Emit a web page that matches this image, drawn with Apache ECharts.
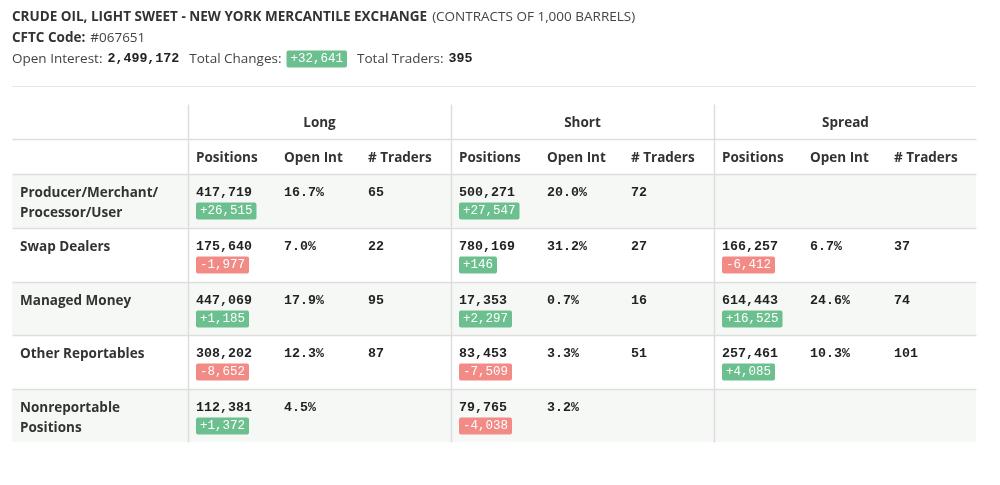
<!DOCTYPE html>
<html>
<head>
<meta charset="utf-8">
<style>
  html, body { margin: 0; padding: 0; background: #fff; }
  #cot { width: 1000px; height: 485px; }
</style>
</head>
<body>
<div id="cot"></div>
<script src="https://cdn.jsdelivr.net/npm/echarts@6/dist/echarts.min.js"></script>
<script>
// report header
var marketName = 'CRUDE OIL, LIGHT SWEET - NEW YORK MERCANTILE EXCHANGE'
var contractUnit = '(CONTRACTS OF 1,000 BARRELS)'
var cftcCode = '067651'
var openInterest = 2499172
var totalChanges = 32641
var totalTraders = 395

// table
var groups = ['Long', 'Short', 'Spread']
var subHeads = ['Positions', 'Open Int', '# Traders']
var categories = ['Producer/Merchant/\nProcessor/User', 'Swap Dealers', 'Managed Money', 'Other Reportables', 'Nonreportable\nPositions']

var longPositions = [417719, 175640, 447069, 308202, 112381]
var longChanges = [26515, -1977, 1185, -8652, 1372]
var longOpenInt = [16.7, 7.0, 17.9, 12.3, 4.5]
var longTraders = [65, 22, 95, 87, null]

var shortPositions = [500271, 780169, 17353, 83453, 79765]
var shortChanges = [27547, 146, 2297, -7509, -4038]
var shortOpenInt = [20.0, 31.2, 0.7, 3.3, 3.2]
var shortTraders = [72, 27, 16, 51, null]

var spreadPositions = [null, 166257, 614443, 257461, null]
var spreadChanges = [null, -6412, 16525, 4085, null]
var spreadOpenInt = [null, 6.7, 24.6, 10.3, null]
var spreadTraders = [null, 37, 74, 101, null]

// layout (table units = px inside the grid)
var TW = 964, TH = 338
var labelW = 176, groupW = 263
var subX = [0, 88, 172]
var rowEdges = [0, 35, 70, 124, 178, 231, 285, 338]
var pad = 8

var GREEN = '#6cc08f', RED = '#f28b86', LINE = '#dedede', ZEBRA = '#f6f8f5'
var SANS = '"Open Sans", sans-serif', MONO = '"Liberation Mono", monospace'

function fmt(n) { return String(Math.abs(n)).replace(/\B(?=(\d{3})+(?!\d))/g, ',') }
function signed(n) { return (n < 0 ? '-' : '+') + fmt(n) }

var cols = [
  { pos: longPositions, chg: longChanges, oi: longOpenInt, tr: longTraders },
  { pos: shortPositions, chg: shortChanges, oi: shortOpenInt, tr: shortTraders },
  { pos: spreadPositions, chg: spreadChanges, oi: spreadOpenInt, tr: spreadTraders }
]

// build cell list
var cells = []
groups.forEach(function (g, gi) {
  var gx = labelW + gi * groupW
  cells.push({ kind: 'group', x: gx + groupW / 2, y: (rowEdges[0] + rowEdges[1]) / 2 + 1.5, text: g })
  subHeads.forEach(function (s, si) {
    cells.push({ kind: 'sub', x: gx + subX[si] + pad, y: (rowEdges[1] + rowEdges[2]) / 2 + 1.5, text: s })
  })
})
categories.forEach(function (c, ri) {
  var top = rowEdges[ri + 2]
  cells.push({ kind: 'label', x: pad, y: top + 9.5, text: c })
  cols.forEach(function (col, gi) {
    var gx = labelW + gi * groupW
    if (col.pos[ri] != null) {
      cells.push({ kind: 'num', x: gx + subX[0] + pad, y: top + 19, text: fmt(col.pos[ri]) })
      cells.push({ kind: 'badge', x: gx + subX[0] + pad, y: top + 28.5, text: signed(col.chg[ri]), neg: col.chg[ri] < 0 })
    }
    if (col.oi[ri] != null) cells.push({ kind: 'num', x: gx + subX[1] + pad, y: top + 19, text: col.oi[ri].toFixed(1) + '%' })
    if (col.tr[ri] != null) cells.push({ kind: 'num', x: gx + subX[2] + pad, y: top + 19, text: String(col.tr[ri]) })
  })
})

var styles = {
  group: { font: 'bold 13.5px ' + SANS, fill: '#333', align: 'center', verticalAlign: 'middle' },
  sub: { font: 'bold 13.5px ' + SANS, fill: '#333', align: 'left', verticalAlign: 'middle' },
  label: { font: 'bold 13.5px ' + SANS, fill: '#333', align: 'left', verticalAlign: 'top', lineHeight: 19.5 },
  num: { font: 'bold 13.3px ' + MONO, fill: '#222', align: 'left', verticalAlign: 'middle' },
  badge: { font: '12.5px ' + MONO, fill: '#fff', align: 'left', verticalAlign: 'top', lineHeight: 13, padding: [2, 4], borderRadius: 2 }
}

// rules
var hLines = rowEdges.slice(1, rowEdges.length - 1)
var vLines = groups.map(function (g, gi) { return labelW + gi * groupW })
var rules = hLines.map(function (y) { return [0, y, TW, y] })
  .concat(vLines.map(function (x) { return [x, 0, x, TH] }))

var rowBands = categories.map(function (c, ri) { return [0, rowEdges[ri + 2], TW, rowEdges[ri + 3]] })

var myChart = echarts.init(document.getElementById('cot'))

var LH = 21
var option = {
  backgroundColor: '#fff',
  animation: false,
  title: {
    left: 12,
    top: 6.5,
    padding: 0,
    text: '{b|' + marketName + '} {n|' + contractUnit + '}\n' +
      '{b|CFTC Code:} {n|#' + cftcCode + '}\n' +
      '{n|Open Interest:} {m|' + fmt(openInterest) + '}{s1|}{n|Total Changes:} {g|' + signed(totalChanges) + '}{s2|}{n|Total Traders:} {m|' + totalTraders + '}',
    textStyle: {
      fontWeight: 'normal',
      lineHeight: LH,
      rich: {
        b: { fontFamily: 'Open Sans', fontWeight: 'bold', fontSize: 13.5, color: '#333', lineHeight: LH },
        n: { fontFamily: 'Open Sans', fontWeight: 'normal', fontSize: 13.5, color: '#444', lineHeight: LH },
        m: { fontFamily: 'Liberation Mono', fontWeight: 'bold', fontSize: 13.3, color: '#222', lineHeight: LH },
        g: { fontFamily: 'Liberation Mono', fontWeight: 'normal', fontSize: 12.5, color: '#fff', backgroundColor: totalChanges < 0 ? RED : GREEN, padding: [2, 4], borderRadius: 2, lineHeight: 13 },
        s1: { width: 10, lineHeight: LH },
        s2: { width: 10, lineHeight: LH }
      }
    }
  },
  graphic: [{
    type: 'line',
    shape: { x1: 12, y1: 86.5, x2: 976, y2: 86.5 },
    style: { stroke: '#e6e6e6', lineWidth: 1 }
  }],
  grid: { left: 12, top: 104, width: TW, height: TH },
  xAxis: { type: 'value', min: 0, max: TW, show: false },
  yAxis: { type: 'value', min: 0, max: TH, inverse: true, show: false },
  series: [{
    name: 'rows',
    type: 'custom',
    silent: true,
    data: rowBands,
    renderItem: function (params, api) {
      var a = api.coord([api.value(0), api.value(1)])
      var b = api.coord([api.value(2), api.value(3)])
      return {
        type: 'rect',
        shape: { x: a[0], y: a[1], width: b[0] - a[0], height: b[1] - a[1] },
        style: { fill: params.dataIndex % 2 === 0 ? ZEBRA : '#fff' }
      }
    }
  }, {
    name: 'rules',
    type: 'custom',
    silent: true,
    data: rules,
    renderItem: function (params, api) {
      var a = api.coord([api.value(0), api.value(1)])
      var b = api.coord([api.value(2), api.value(3)])
      return {
        type: 'line',
        shape: { x1: Math.round(a[0]) + 0.5, y1: Math.round(a[1]) + 0.5, x2: Math.round(b[0]) + 0.5, y2: Math.round(b[1]) + 0.5 },
        style: { stroke: LINE, lineWidth: 1.5 }
      }
    }
  }, {
    name: 'cells',
    type: 'custom',
    silent: true,
    data: cells.map(function (c) { return [c.x, c.y] }),
    renderItem: function (params, api) {
      var c = cells[params.dataIndex]
      var p = api.coord([api.value(0), api.value(1)])
      var st = Object.assign({ text: c.text }, styles[c.kind])
      if (c.kind === 'badge') st.backgroundColor = c.neg ? RED : GREEN
      return { type: 'text', x: p[0], y: p[1], style: st }
    }
  }]
}
myChart.setOption(option)
</script>
</body>
</html>
